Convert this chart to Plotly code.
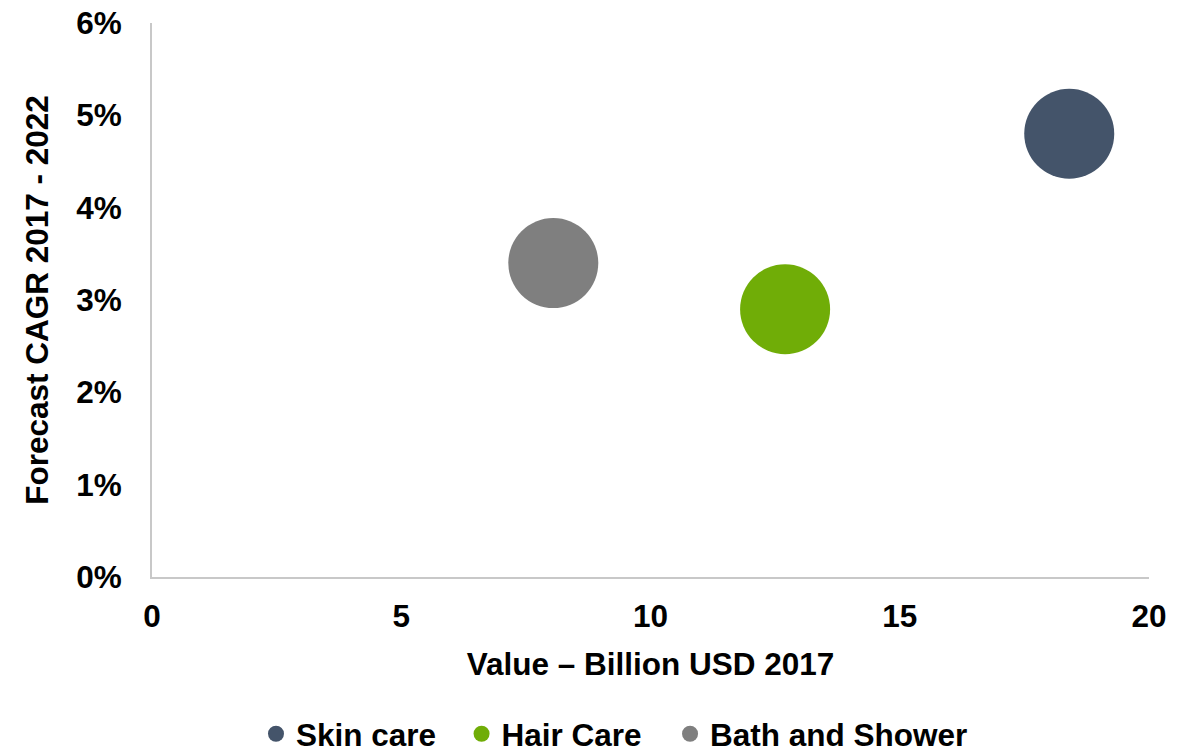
import plotly.graph_objects as go

# Market segments: 2017 value (billion USD) vs forecast CAGR 2017-2022 (%)
segments = ["Skin care", "Hair Care", "Bath and Shower"]
value_busd = [18.4, 12.7, 8.05]
cagr_pct = [4.8, 2.9, 3.4]
colors = ["#44546A", "#70AD07", "#7F7F7F"]

x_ticks = [0, 5, 10, 15, 20]
y_ticks = [0, 1, 2, 3, 4, 5, 6]
y_tick_labels = [f"{v}%" for v in y_ticks]

FONT = "Arial, Liberation Sans, sans-serif"
FS = 31.5
bold = dict(family=FONT, size=FS, color="black", weight="bold")

# one legend box per entry so the entries can be spaced evenly
legend_ids = ["legend", "legend2", "legend3"]
legend_x = [0.1043, 0.3105, 0.5196]

fig = go.Figure()
for name, x, y, c, lid in zip(segments, value_busd, cagr_pct, colors, legend_ids):
    fig.add_trace(go.Scatter(
        x=[x], y=[y], mode="markers", name=name, legend=lid,
        marker=dict(size=90, color=c, line=dict(width=0), opacity=1),
    ))

legend_style = dict(
    orientation="h", xanchor="left", y=-0.283, yanchor="middle",
    font=bold, itemsizing="trace", bgcolor="rgba(0,0,0,0)",
)

fig.update_layout(
    width=1191, height=750,
    margin=dict(l=152, r=42, t=23, b=173, autoexpand=False),
    paper_bgcolor="white", plot_bgcolor="white",
    font=bold,
    showlegend=True,
    xaxis=dict(
        range=[0, 20], tickvals=x_ticks, ticktext=[str(v) for v in x_ticks],
        showgrid=False, zeroline=False, showline=True, linecolor="#C8C8C8", linewidth=2,
        ticks="", ticklabelstandoff=10, automargin=False,
        tickfont=bold,
        title=dict(text="Value – Billion USD 2017", standoff=20, font=bold),
    ),
    yaxis=dict(
        range=[0, 6], tickvals=y_ticks, ticktext=y_tick_labels,
        showgrid=False, zeroline=False, showline=True, linecolor="#C8C8C8", linewidth=2,
        ticks="", ticklabelstandoff=22, automargin=False,
        tickfont=bold,
        title=dict(text="Forecast CAGR 2017 - 2022", standoff=18, font=bold),
    ),
)
for lid, lx in zip(legend_ids, legend_x):
    fig.update_layout({lid: dict(legend_style, x=lx)})

fig.write_html("out.html")
